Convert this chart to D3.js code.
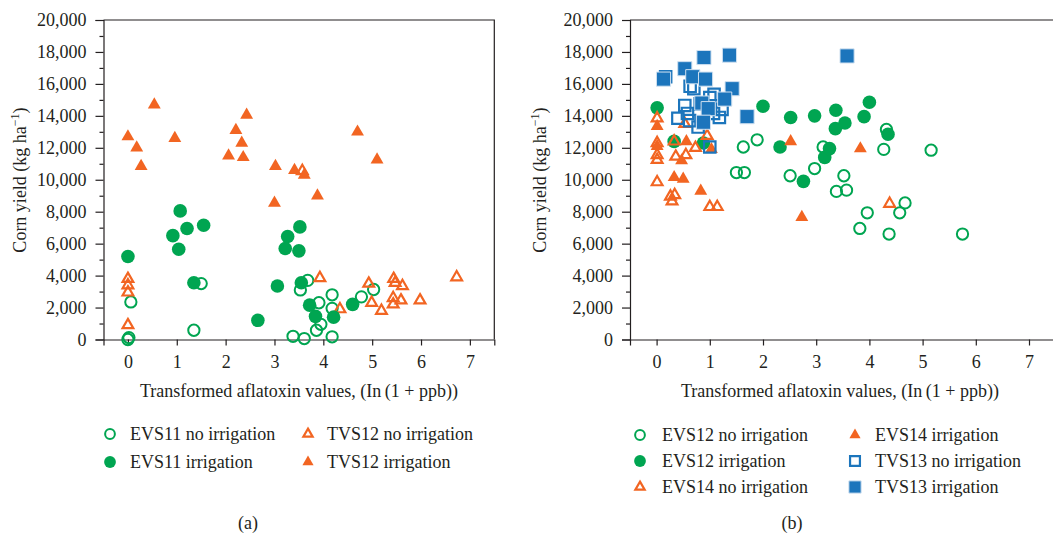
<!DOCTYPE html>
<html>
<head>
<meta charset="utf-8">
<script src="https://cdn.jsdelivr.net/npm/d3@7"></script>
<style>
  body { margin: 0; background: #fff; }
  svg text { font-family: "Liberation Serif", "DejaVu Serif", serif; fill: #231f20; }
</style>
</head>
<body>
<svg id="chart" width="1053" height="534"></svg>
<script>
// panel (a) series, [x, y] = [ln(1+ppb), kg/ha]
const evs11NoIrr = [[0,0],[0.02,120],[0.06,2350],[1.35,580],[1.50,3500],[3.38,200],[3.61,60],[3.53,3100],
  [3.68,3700],[3.91,2300],[3.86,580],[3.95,950],[4.18,2800],[4.18,1950],[4.18,170],[4.78,2670],[5.03,3130]];
const evs11Irr = [[0,5200],[1.07,8050],[0.92,6500],[1.21,6950],[1.04,5650],[1.55,7150],[1.35,3550],[2.66,1200],
  [3.06,3350],[3.27,6450],[3.22,5700],[3.52,7050],[3.50,5550],[3.55,3550],[3.72,2150],[3.84,1450],[4.21,1400],[4.60,2200]];
const tvs12NoIrr = [[0,3800],[0,3400],[0,2950],[0,900],[3.93,3850],[4.34,1900],[4.93,3500],[4.99,2300],[5.19,1800],
  [5.44,3800],[5.47,3550],[5.62,3350],[5.43,2600],[5.43,2200],[5.59,2450],[5.98,2450],[6.73,3900],[3.57,10550]];
const tvs12Irr = [[0,12700],[0.18,12000],[0.27,10850],[0.54,14700],[0.96,12600],[2.06,11500],[2.21,13100],[2.33,12300],
  [2.36,11400],[2.43,14050],[3.02,10850],[3.0,8550],[3.41,10600],[3.61,10300],[3.88,9000],[4.70,13000],[5.10,11250]];

// panel (b) series
const evs12NoIrr = [[1.63,12050],[1.89,12500],[1.50,10450],[1.65,10450],[2.51,10250],[2.97,10700],[3.13,12050],
  [3.52,10250],[3.38,9270],[3.57,9350],[3.82,6950],[3.96,7930],[4.27,11900],[4.32,13150],[4.37,6600],[4.57,7930],
  [4.67,8550],[5.16,11850],[5.75,6600]];
const evs12Irr = [[0.01,14500],[0.33,12400],[0.88,12300],[2.0,14600],[2.32,12050],[2.52,13900],[2.76,9900],[2.97,14000],
  [3.16,11400],[3.25,11950],[3.36,13200],[3.37,14350],[3.54,13550],[3.90,13950],[4.0,14850],[4.35,12850]];
const evs14NoIrr = [[0.01,13850],[0.01,12300],[0.01,11550],[0.01,11250],[0.01,9850],[0.33,12400],[0.95,12750],
  [0.73,12000],[0.36,11450],[0.55,11550],[0.26,8950],[0.34,9050],[0.29,8650],[1.0,8300],[1.14,8300],[4.38,8500],[0.53,13500]];
const evs14Irr = [[0.01,13350],[0.01,12100],[0.56,12400],[1.03,11900],[0.47,11200],[0.33,10150],[0.50,10050],
  [0.83,9300],[2.73,7650],[2.52,12400],[3.83,11950]];
const tvs13NoIrr = [[0.17,16450],[0.63,15850],[0.70,15700],[0.53,14650],[0.58,14150],[0.40,13850],[0.62,13700],
  [0.78,13300],[1.0,15150],[1.08,15350],[1.07,14150],[1.18,13900],[1.23,14400],[1.0,12050],[0.82,14750]];
const tvs13Irr = [[0.13,16300],[0.53,16950],[0.68,16450],[0.89,17650],[0.92,16300],[1.37,17800],[1.42,15700],
  [1.28,15050],[0.85,14800],[0.97,14450],[0.88,13600],[1.70,13950],[3.58,17750]];

const xTicks = [0, 1, 2, 3, 4, 5, 6, 7];
const yMajor = [0, 2000, 4000, 6000, 8000, 10000, 12000, 14000, 16000, 18000, 20000];
const yMinor = d3.range(1000, 20000, 2000);
const xTitle = "Transformed aflatoxin values, (In\u2009(1 + ppb))";

const GREEN = "#00a551", ORANGE = "#f26522", BLUE = "#1c75bc", INK = "#231f20";

const svg = d3.select("#chart");

// marker styles
const styles = {
  circleOpen:   { type: d3.symbolCircle,   size: 100, fill: "none",  stroke: GREEN,  sw: 2 },
  circleFill:   { type: d3.symbolCircle,   size: 145, fill: GREEN,   stroke: "none", sw: 0 },
  triOpen:      { type: d3.symbolTriangle, size: 50,  fill: "none",  stroke: ORANGE, sw: 2.2 },
  triFill:      { type: d3.symbolTriangle, size: 72,  fill: ORANGE,  stroke: "none", sw: 0 },
  squareOpen:   { type: d3.symbolSquare,   size: 130, fill: "none",  stroke: BLUE,   sw: 2.2 },
  squareFill:   { type: d3.symbolSquare,   size: 200, fill: BLUE,    stroke: "#cfe0f0", sw: 1 }
};

function drawMarks(g, data, st, x, y) {
  const sym = d3.symbol().type(st.type).size(st.size);
  g.append("g").selectAll("path")
    .data(data)
    .enter().append("path")
    .attr("d", sym)
    .attr("transform", d => `translate(${x(d[0])},${y(d[1])})`)
    .attr("fill", st.fill)
    .attr("stroke", st.stroke)
    .attr("stroke-width", st.sw);
}

function drawPanel(opts) {
  const x = d3.scaleLinear().domain([-0.5, 7.5]).range([opts.left, opts.right]);
  const y = d3.scaleLinear().domain([0, 20000]).range([339.5, 20]);
  const g = svg.append("g");

  // frame top and right
  g.append("path")
    .attr("d", `M${opts.left},20H${opts.right}V339.5`)
    .attr("fill", "none").attr("stroke", INK).attr("stroke-width", 1.2);

  const yAxis = d3.axisLeft(y).tickValues(yMajor).tickFormat(d3.format(",")).tickSize(8).tickPadding(9);
  const ya = g.append("g").attr("transform", `translate(${opts.left},0)`).call(yAxis);
  ya.selectAll(".tick").filter(d => d === 0).select("text").attr("dx", "0");
  const yMin = d3.axisLeft(y).tickValues(yMinor).tickFormat("").tickSize(4);
  g.append("g").attr("transform", `translate(${opts.left},0)`).call(yMin).select(".domain").remove();

  const xAxis = d3.axisBottom(x).tickValues(xTicks).tickSize(6).tickPadding(10);
  g.append("g").attr("transform", "translate(0,339.5)").call(xAxis);

  g.selectAll(".domain, .tick line").attr("stroke", INK).attr("stroke-width", 1.2);
  g.selectAll(".tick text").style("font-size", "18px").attr("fill", INK);

  // axis titles
  g.append("text")
    .attr("transform", `translate(${opts.yTitleX},180) rotate(-90)`)
    .attr("text-anchor", "middle")
    .style("font-size", "18px")
    .html('Corn yield (kg ha<tspan dy="-7" font-size="12px">\u22121</tspan><tspan dy="7">)</tspan>');
  g.append("text")
    .attr("x", opts.xTitleX).attr("y", 397)
    .attr("text-anchor", "middle")
    .style("font-size", "18px")
    .text(xTitle);

  const plot = g.append("g");
  opts.series.forEach(s => drawMarks(plot, s.data, styles[s.style], x, y));

  // legend
  const leg = g.append("g");
  opts.legend.forEach(item => {
    const st = styles[item.style];
    const sym = d3.symbol().type(st.type).size(st.size * 0.75);
    leg.append("path")
      .attr("d", sym)
      .attr("transform", `translate(${item.sx},${item.y})`)
      .attr("fill", st.fill).attr("stroke", st.stroke).attr("stroke-width", st.sw);
    leg.append("text")
      .attr("x", item.tx).attr("y", item.y).attr("dy", "0.33em")
      .style("font-size", "18px")
      .text(item.label);
  });

  g.append("text")
    .attr("x", opts.capX).attr("y", 523).attr("dy", "0.33em")
    .attr("text-anchor", "middle")
    .style("font-size", "18px")
    .text(opts.caption);
}

drawPanel({
  left: 103.5, right: 494.3, yTitleX: 26, xTitleX: 299, capX: 248, caption: "(a)",
  series: [
    { data: evs11NoIrr, style: "circleOpen" },
    { data: tvs12NoIrr, style: "triOpen" },
    { data: evs11Irr, style: "circleFill" },
    { data: tvs12Irr, style: "triFill" }
  ],
  legend: [
    { label: "EVS11 no irrigation", style: "circleOpen", sx: 110, tx: 130, y: 434 },
    { label: "EVS11 irrigation", style: "circleFill", sx: 110, tx: 130, y: 462 },
    { label: "TVS12 no irrigation", style: "triOpen", sx: 308, tx: 327, y: 434 },
    { label: "TVS12 irrigation", style: "triFill", sx: 308, tx: 327, y: 462 }
  ]
});

drawPanel({
  left: 630, right: 1055.6, yTitleX: 546, xTitleX: 840, capX: 792, caption: "(b)",
  series: [
    { data: evs12NoIrr, style: "circleOpen" },
    { data: evs12Irr, style: "circleFill" },
    { data: evs14NoIrr, style: "triOpen" },
    { data: evs14Irr, style: "triFill" },
    { data: tvs13NoIrr, style: "squareOpen" },
    { data: tvs13Irr, style: "squareFill" }
  ],
  legend: [
    { label: "EVS12 no irrigation", style: "circleOpen", sx: 640, tx: 662, y: 435 },
    { label: "EVS12 irrigation", style: "circleFill", sx: 640, tx: 662, y: 461 },
    { label: "EVS14 no irrigation", style: "triOpen", sx: 640, tx: 662, y: 487 },
    { label: "EVS14 irrigation", style: "triFill", sx: 855, tx: 875, y: 435 },
    { label: "TVS13 no irrigation", style: "squareOpen", sx: 855, tx: 875, y: 461 },
    { label: "TVS13 irrigation", style: "squareFill", sx: 855, tx: 875, y: 487 }
  ]
});
</script>
</body>
</html>
